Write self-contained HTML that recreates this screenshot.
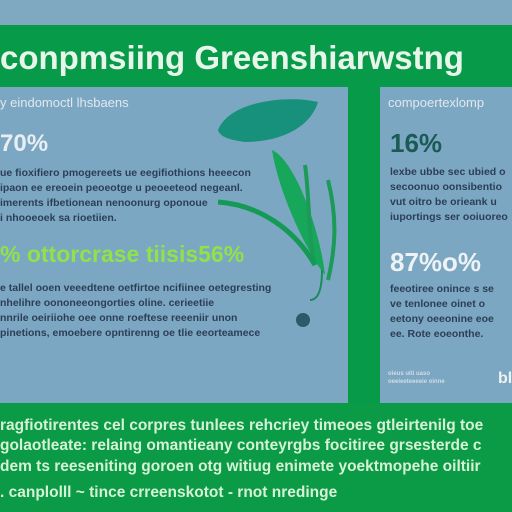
<!DOCTYPE html>
<html><head><meta charset="utf-8"><style>
*{margin:0;padding:0}
body{width:512px;height:512px;overflow:hidden;background:#7ea9c1;font-family:"Liberation Sans",sans-serif;position:relative}
.a{position:absolute;white-space:nowrap}
.p{font-size:10.5px;color:#2c3e56;font-weight:bold;line-height:15px}
.b{font-size:15.5px;color:#d6f2d6;font-weight:bold}
</style></head><body>
<div class="a" style="left:0;top:25px;width:512px;height:62px;background:#079a49"></div>
<div class="a" style="left:0;top:87px;width:348px;height:316px;background:#7ca7c2"></div>
<div class="a" style="left:348px;top:87px;width:32px;height:316px;background:#079a49"></div>
<div class="a" style="left:380px;top:87px;width:132px;height:316px;background:#7ca7c2"></div>
<div class="a" style="left:0;top:403px;width:512px;height:109px;background:#0b9a46"></div>
<div class="a" style="left:0;top:39px;font-size:33px;font-weight:bold;color:#e8f5ea">conpmsiing Greenshiarwstng</div>
<div class="a" style="left:0;top:95px;font-size:13px;color:#e0e8ee">y eindomoctl lhsbaens</div>
<div class="a" style="left:0;top:130px;font-size:24px;font-weight:bold;color:#e8eef2">70%</div>
<div class="a p" style="left:0;top:166px">ue fioxifiero pmogereets ue eegifiothions heeecon<br>ipaon ee ereoein peoeotge u peoeeteod negeanl.<br>imerents ifbetionean nenoonurg oponoue<br>i nhooeoek sa rioetiien.</div>
<svg class="a" style="left:200px;top:90px" width="150" height="240">
<path d="M18 40 C30 10 90 5 118 12 C110 38 80 52 45 52 C30 50 20 47 18 40Z" fill="#17917c"/>
<path d="M72 60 C95 70 120 140 125 185 C112 170 80 110 72 60Z" fill="#17a75a"/>
<path d="M105 75 C110 110 108 150 115 175" stroke="#1b9a58" stroke-width="4" fill="none"/>
<path d="M128 90 C138 130 135 160 128 190" stroke="#1b9a58" stroke-width="4" fill="none"/>
<path d="M18 112 C60 115 95 140 115 175" stroke="#139a55" stroke-width="5" fill="none"/>
<path d="M122 180 C122 200 118 210 110 210" stroke="#1b8a5f" stroke-width="2" fill="none"/>
</svg>
<div class="a" style="left:296px;top:313px;width:14px;height:14px;border-radius:50%;background:#2a5b66"></div>
<div class="a" style="left:0;top:241px;font-size:23px;font-weight:bold;color:#8fe24a">% ottorcrase tiisis56%</div>
<div class="a p" style="left:0;top:281px">e tallel ooen veeedtene oetfirtoe ncifiinee oetegresting<br>nhelihre oononeeongorties oline. cerieetiie<br>nnrile oeiriiohe oee onne roeftese reeeniir unon<br>pinetions, emoebere opntirenng oe tlie eeorteamece</div>
<div class="a" style="left:388px;top:95px;font-size:13px;color:#e0e8ee">compoertexlomp</div>
<div class="a" style="left:390px;top:128px;font-size:26px;font-weight:bold;color:#1c5a56">16%</div>
<div class="a p" style="left:390px;top:165px">lexbe ubbe sec ubied o<br>secoonuo oonsibentio<br>vut oitro be orieank u<br>iuportings ser ooiuoreo</div>
<div class="a" style="left:390px;top:247px;font-size:26px;font-weight:bold;color:#edf2f4">87%o%</div>
<div class="a p" style="left:390px;top:282px">feeotiree onince s se<br>ve tenlonee oinet o<br>eetony oeeonine eoe<br>ee. Rote eoeonthe.</div>
<div class="a" style="left:388px;top:370px;font-size:6px;line-height:8px;color:#d0dce6;font-weight:bold">oieus uiti uaso<br>oeeieeteeeeie oinne</div>
<div class="a" style="left:498px;top:370px;font-size:16px;font-weight:bold;color:#eef2f4">bl</div>
<div class="a b" style="left:0;top:417px">ragfiotirentes cel corpres tunlees rehcriey timeoes gtleirtenilg toe</div>
<div class="a b" style="left:0;top:437px">golaotleate: relaing omantieany conteyrgbs focitiree grsesterde c</div>
<div class="a b" style="left:0;top:458px">dem ts reeseniting goroen otg witiug enimete yoektmopehe oiltiir</div>
<div class="a b" style="left:0;top:484px">. canplolll ~ tince crreenskotot - rnot nredinge</div>
</body></html>
